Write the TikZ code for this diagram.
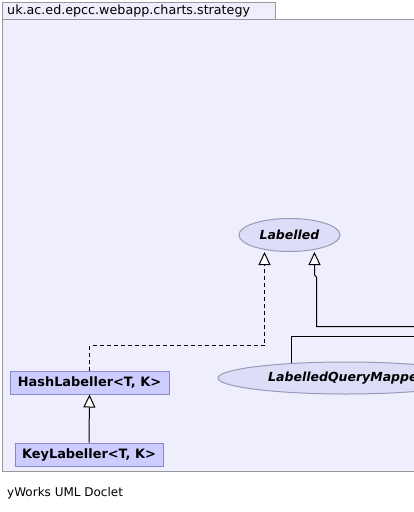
\documentclass[tikz,border=0pt]{standalone}
\usepackage{fontspec}
\setmainfont{DejaVu Sans}
\usetikzlibrary{arrows.meta}
\definecolor{pkgfill}{RGB}{238,238,252}
\definecolor{pkgline}{RGB}{153,153,153}
\definecolor{clsfill}{RGB}{204,204,255}
\definecolor{clsline}{RGB}{136,136,204}
\definecolor{ifill}{RGB}{221,221,248}
\definecolor{iline}{RGB}{153,153,187}
\tikzset{
  pkg/.style={draw=pkgline, fill=pkgfill, line width=1pt},
  cls/.style={draw=clsline, fill=clsfill, line width=1pt, inner sep=0pt, font=\fontsize{12.9}{15}\selectfont\bfseries},
  iface/.style={draw=iline, fill=ifill, line width=1pt, ellipse, inner sep=0pt, font=\fontsize{12.5}{15}\selectfont\bfseries\itshape},
  conn/.style={line width=1pt, draw=black},
  inh/.style={-{Triangle[length=13pt,width=12pt,fill=white,line width=1pt]}},
}
\usetikzlibrary{shapes.geometric}
\begin{document}
\begin{tikzpicture}[x=1pt,y=-1pt]
\useasboundingbox (0,0) rectangle (414,512);
\clip (0,0) rectangle (414,512);
\fill[white] (0,0) rectangle (414,512);
% package frame
\draw[pkg] (2.5,19.5) rectangle (520,471.5);
\draw[pkg] (2.5,2.5) rectangle (275.5,19.5);
\node[anchor=west, inner sep=0pt, font=\fontsize{12.7}{15}\selectfont] (pkgname) at (7,11) {uk.ac.ed.epcc.webapp.charts.strategy};
% nodes
\node[iface, minimum width=101pt, minimum height=33pt] (labelled) at (289.5,235) {Labelled};
\node[iface, minimum width=256pt, minimum height=32pt] (lqm) at (346,378) {LabelledQueryMapper};
\node[cls, minimum width=159pt, minimum height=23pt] (hash) at (89.5,382.5) {HashLabeller<T, K>};
\node[cls, minimum width=148pt, minimum height=23pt] (key) at (89,454.5) {KeyLabeller<T, K>};
% coordinates
\coordinate (hj) at (264.5,345.5);
\coordinate (rA) at (430,326.5);
\coordinate (jA) at (316.5,277);
\coordinate (jB) at (314.5,275);
\coordinate (rB) at (430,336.5);
\coordinate (lqmtop) at (291.5,362.5);
% connectors
\draw[conn, inh] (key.north) -- (hash.south);
\draw[conn, inh, dash pattern=on 4pt off 3pt] (hash.north) |- (hj) -- (labelled.south -| hj);
\draw[conn, inh] (rA) -| (jA) -- (jB) -- (labelled.south -| jB);
\draw[conn] (lqmtop) |- (rB);
% footer
\node[anchor=west, inner sep=0pt, font=\fontsize{12}{14}\selectfont] (footer) at (7,493) {yWorks UML Doclet};
\end{tikzpicture}
\end{document}
